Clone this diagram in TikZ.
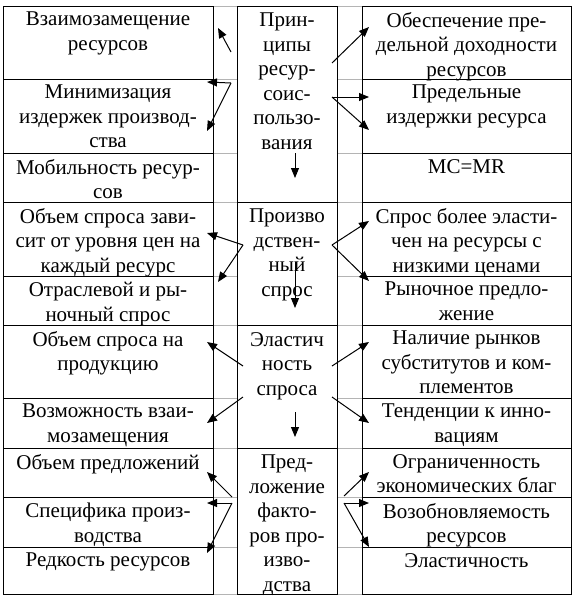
\documentclass[tikz,border=0pt]{standalone}
\usepackage{fontspec}
\setmainfont{Liberation Serif}
\usetikzlibrary{arrows.meta}
\definecolor{GridGray}{HTML}{B4B4B4}
\tikzset{
  celltext/.style={anchor=north,inner sep=0pt,align=center,
    font=\fontsize{21}{24.5}\selectfont},
  cellline/.style={line width=0.9pt},
  arr/.style={-{Triangle[length=10pt,width=8pt]},line width=1pt}
}
\begin{document}
\begin{tikzpicture}[x=1pt,y=-1pt]
  \useasboundingbox (0,0) rectangle (577,600);
  % faint grid in the two narrow columns
  \foreach \yy in {6,79,153,202,276,325,398,448,497,547,594}{
    \draw[GridGray] (213,\yy) -- (237,\yy);
    \draw[GridGray] (337,\yy) -- (362,\yy);
  }
  % left column
  \foreach \i/\ya/\yb/\lab in {1/6/79/{Взаимозамещение\\ресурсов},
                               2/79/153/{Минимизация\\издержек производ-\\ства},
                               3/153/202/{Мобильность ресур-\\сов},
                               4/202/276/{Объем спроса зави-\\сит от уровня цен на\\каждый ресурс},
                               5/276/325/{Отраслевой и ры-\\ночный спрос},
                               6/325/398/{Объем спроса на\\продукцию},
                               7/398/448/{Возможность взаи-\\мозамещения},
                               8/448/497/{Объем предложений},
                               9/497/547/{Специфика произ-\\водства},
                               10/547/594/{Редкость ресурсов}}{
    \draw[cellline] (3,\ya) rectangle (213,\yb);
    \node[celltext] (l\i) at (108,\ya+6) {\lab};
  }
  % right column
  \foreach \i/\ya/\yb/\lab in {1/6/79/{Обеспечение пре-\\дельной доходности\\ресурсов},
                               2/79/153/{Предельные\\издержки ресурса},
                               3/153/202/{MC=MR},
                               4/202/276/{Спрос более эласти-\\чен на ресурсы с\\низкими ценами},
                               5/276/325/{Рыночное предло-\\жение},
                               6/325/398/{Наличие рынков\\субститутов и ком-\\плементов},
                               7/398/448/{Тенденции к инно-\\вациям},
                               8/448/497/{Ограниченность\\экономических благ},
                               9/497/547/{Возобновляемость\\ресурсов},
                               10/547/594/{Эластичность}}{
    \draw[cellline] (362,\ya) rectangle (571,\yb);
    \node[celltext] (r\i) at (466.5,\ya+6) {\lab};
  }
  % middle column
  \foreach \i/\ya/\yb/\lab in {1/6/202/{Прин-\\ципы\\ресур-\\соис-\\пользо-\\вания},
                               2/202/325/{Произво\\дствен-\\ный\\спрос},
                               3/325/448/{Эластич\\ность\\спроса},
                               4/448/594/{Пред-\\ложение\\факто-\\ров про-\\изво-\\дства}}{
    \draw[cellline] (237,\ya) rectangle (337,\yb);
    \node[celltext] (c\i) at (287,\ya+7) {\lab};
  }
  % arrows: start point / tip
  \foreach \n/\sx/\sy/\tx/\ty in {1/231/52/218/28, 2/231/83/207/82, 3/231/83/207/131,
                                  4/332/63/369/27, 5/332/97/369/97, 6/332/97/369/130,
                                  7/295/153/295/178,
                                  8/243/245/207/233, 9/243/245/218/282,
                                  10/332/245/369/221, 11/332/245/369/281,
                                  12/295/262/295/308,
                                  13/243/366/207/342, 14/243/397/207/423,
                                  15/332/366/369/342, 16/332/397/369/423,
                                  17/295/412/295/437,
                                  18/232/497/207/472, 19/232/503/207/503, 20/232/503/207/553,
                                  21/344/496/369/472, 22/344/503/369/503, 23/344/503/369/547}{
    \coordinate (s\n) at (\sx,\sy);
    \coordinate (t\n) at (\tx,\ty);
    \draw[arr] (s\n) -- (t\n);
  }
\end{tikzpicture}
\end{document}
